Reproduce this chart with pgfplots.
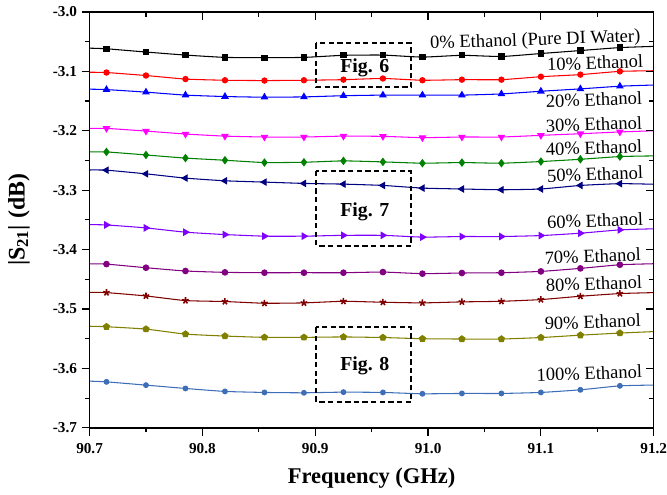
\documentclass[border=0pt]{standalone}
\usepackage{fontspec}
\setmainfont{Liberation Serif}
\usepackage{pgfplots}
\usepackage{pgfplotstable}
\pgfplotsset{compat=1.18}

\definecolor{c0}{HTML}{000000}
\definecolor{c1}{HTML}{FF0000}
\definecolor{c2}{HTML}{0000FF}
\definecolor{c3}{HTML}{FF00FF}
\definecolor{c4}{HTML}{008000}
\definecolor{c5}{HTML}{000080}
\definecolor{c6}{HTML}{8000FF}
\definecolor{c7}{HTML}{800080}
\definecolor{c8}{HTML}{800000}
\definecolor{c9}{HTML}{808000}
\definecolor{c10}{HTML}{3E6EB8}

% |S21| (dB) per ethanol fraction, first/last rows are the fit ends at the axis edges
\pgfplotstableread{
x       c0      c1      c2      c3      c4      c5      c6      c7      c8      c9      c10
90.700  -3.0610 -3.1015 -3.1300 -3.1960 -3.2355 -3.2660 -3.3580 -3.4240 -3.4720 -3.5290 -3.6214
90.715  -3.0620 -3.1020 -3.1307 -3.1960 -3.2356 -3.2663 -3.3585 -3.4244 -3.4724 -3.5298 -3.6226
90.750  -3.0675 -3.1070 -3.1350 -3.2005 -3.2407 -3.2725 -3.3635 -3.4305 -3.4780 -3.5338 -3.6281
90.785  -3.0726 -3.1130 -3.1400 -3.2055 -3.2460 -3.2797 -3.3707 -3.4360 -3.4858 -3.5422 -3.6337
90.820  -3.0765 -3.1150 -3.1424 -3.2090 -3.2496 -3.2842 -3.3747 -3.4383 -3.4874 -3.5455 -3.6387
90.855  -3.0770 -3.1155 -3.1435 -3.2105 -3.2535 -3.2864 -3.3774 -3.4389 -3.4903 -3.5477 -3.6404
90.890  -3.0765 -3.1150 -3.1430 -3.2105 -3.2530 -3.2886 -3.3774 -3.4389 -3.4897 -3.5477 -3.6410
90.925  -3.0730 -3.1140 -3.1410 -3.2090 -3.2507 -3.2898 -3.3760 -3.4389 -3.4870 -3.5470 -3.6399
90.960  -3.0726 -3.1120 -3.1400 -3.2094 -3.2524 -3.2920 -3.3760 -3.4378 -3.4886 -3.5480 -3.6404
90.995  -3.0760 -3.1150 -3.1400 -3.2116 -3.2546 -3.2965 -3.3790 -3.4405 -3.4897 -3.5500 -3.6427
91.030  -3.0730 -3.1140 -3.1400 -3.2105 -3.2535 -3.2980 -3.3780 -3.4394 -3.4880 -3.5505 -3.6421
91.065  -3.0750 -3.1140 -3.1380 -3.2105 -3.2546 -3.2993 -3.3780 -3.4389 -3.4870 -3.5505 -3.6421
91.100  -3.0700 -3.1090 -3.1335 -3.2077 -3.2518 -3.2980 -3.3764 -3.4367 -3.4841 -3.5480 -3.6404
91.135  -3.0650 -3.1055 -3.1295 -3.2050 -3.2480 -3.2920 -3.3724 -3.4316 -3.4785 -3.5440 -3.6360
91.170  -3.0600 -3.1000 -3.1250 -3.2020 -3.2434 -3.2890 -3.3668 -3.4255 -3.4740 -3.5405 -3.6293
91.200  -3.0580 -3.0990 -3.1230 -3.2000 -3.2423 -3.2900 -3.3650 -3.4238 -3.4724 -3.5380 -3.6280
}\sdata

\pgfplotsset{
  frame/.style={
    scale only axis, width=425.25bp, height=313.5bp,
    xmin=90.7, xmax=91.2, ymin=-3.7, ymax=-3.0,
    xtick={90.7,90.8,90.9,91.0,91.1,91.2},
    minor xtick={90.75,90.85,90.95,91.05,91.15},
    ytick={-3.7,-3.6,-3.5,-3.4,-3.3,-3.2,-3.1,-3.0},
    minor ytick={-3.65,-3.55,-3.45,-3.35,-3.25,-3.15,-3.05},
    major tick length=6bp, minor tick length=3.5bp,
    axis line style={line width=1bp},
    every tick/.style={black, line width=0.9bp},
  },
  curve/.style={#1, line width=0.8pt, smooth, tension=0.3,
    mark indices={2,3,4,5,6,7,8,9,10,11,12,13,14,15},
    mark options={solid, fill=#1, draw=#1}},
}

\begin{document}
\begin{tikzpicture}
\begin{axis}[frame,
    tick align=outside, xtick pos=left, ytick pos=left,
    xticklabels={90.7,90.8,90.9,91.0,91.1,91.2},
    yticklabels={-3.7,-3.6,-3.5,-3.4,-3.3,-3.2,-3.1,-3.0},
    ticklabel style={font=\fontsize{11.5}{11.5}\selectfont\bfseries},
    xticklabel style={yshift=-2bp},
    xlabel={Frequency (GHz)},
    ylabel={|S\textsubscript{21}| (dB)},
    xlabel style={font=\fontsize{17}{17}\selectfont\bfseries, at={(axis description cs:0.5,-0.12)}, anchor=center},
    ylabel style={font=\fontsize{18}{18}\selectfont\bfseries, at={(axis description cs:-0.125,0.5)}, anchor=center},
]
\coordinate (bl) at (rel axis cs:0,0);
\coordinate (tr) at (rel axis cs:1,1);

\addplot[curve=c0, mark=square*, mark size=2pt] table[x=x, y=c0] {\sdata};
\addplot[curve=c1, mark=*, mark size=2pt] table[x=x, y=c1] {\sdata};
\addplot[curve=c2, mark=triangle*, mark size=2.6pt] table[x=x, y=c2] {\sdata};
\addplot[curve=c3, mark=triangle*, mark size=2.6pt, mark options={rotate=180}] table[x=x, y=c3] {\sdata};
\addplot[curve=c4, mark=diamond*, mark size=2.6pt] table[x=x, y=c4] {\sdata};
\addplot[curve=c5, mark=triangle*, mark size=2.6pt, mark options={rotate=90}] table[x=x, y=c5] {\sdata};
\addplot[curve=c6, mark=triangle*, mark size=2.6pt, mark options={rotate=-90}] table[x=x, y=c6] {\sdata};
\addplot[curve=c7, mark=*, mark size=2.1pt] table[x=x, y=c7] {\sdata};
\addplot[curve=c8, mark=star, mark size=2.6pt, mark options={line width=1.2pt}] table[x=x, y=c8] {\sdata};
\addplot[curve=c9, mark=pentagon*, mark size=2.4pt] table[x=x, y=c9] {\sdata};
\addplot[curve=c10, mark=*, mark size=1.8pt] table[x=x, y=c10] {\sdata};

\begin{scope}[every node/.style={font=\fontsize{14}{14}\selectfont, rotate=2, anchor=center, inner sep=0pt}]
\node at (axis cs:91.095,-3.0486) {0\% Ethanol (Pure DI Water)};
\node at (axis cs:91.148,-3.0854) {10\% Ethanol};
\node at (axis cs:91.147,-3.1474) {20\% Ethanol};
\node at (axis cs:91.147,-3.189) {30\% Ethanol};
\node at (axis cs:91.147,-3.2284) {40\% Ethanol};
\node at (axis cs:91.148,-3.273) {50\% Ethanol};
\node at (axis cs:91.148,-3.351) {60\% Ethanol};
\node at (axis cs:91.146,-3.411) {70\% Ethanol};
\node at (axis cs:91.147,-3.4573) {80\% Ethanol};
\node at (axis cs:91.146,-3.5215) {90\% Ethanol};
\node at (axis cs:91.143,-3.608) {100\% Ethanol};
\end{scope}

\begin{scope}[dash pattern=on 4bp off 2.5bp, line width=1.5bp]
\draw (axis cs:90.901,-3.0531) rectangle (axis cs:90.985,-3.1261);
\draw (axis cs:90.901,-3.268) rectangle (axis cs:90.985,-3.3936);
\draw (axis cs:90.901,-3.531) rectangle (axis cs:90.985,-3.6566);
\end{scope}
\begin{scope}[every node/.style={font=\fontsize{15}{15}\selectfont\bfseries, anchor=center}]
\node at (axis cs:90.944,-3.094) {Fig. 6};
\node at (axis cs:90.944,-3.3367) {Fig. 7};
\node at (axis cs:90.944,-3.596) {Fig. 8};
\end{scope}
\end{axis}

\begin{axis}[frame,
    tick align=inside, xtick pos=right, ytick pos=right,
    xticklabels={}, yticklabels={},
]
\end{axis}

\pgfresetboundingbox
\path ([xshift=-67.5bp,yshift=-50.25bp]bl) rectangle ([xshift=10bp,yshift=9bp]tr);
\end{tikzpicture}
\end{document}
